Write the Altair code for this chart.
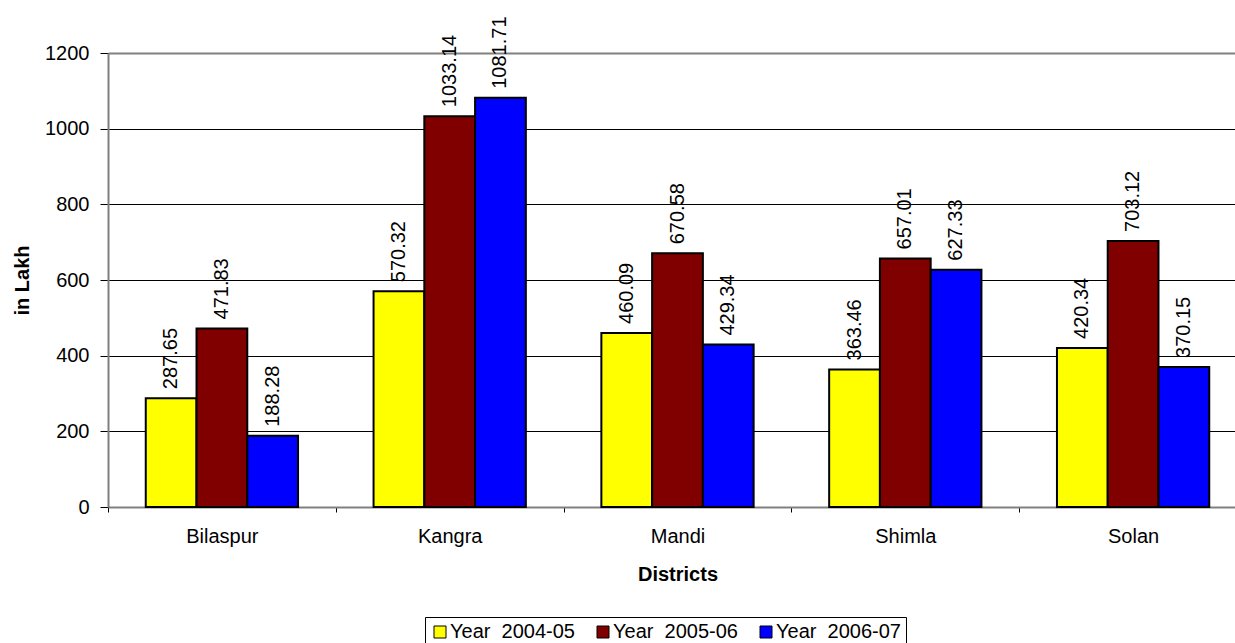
import altair as alt
import pandas as pd

# Grouped bar chart: district-wise amounts (in Lakh) for three years
districts = ["Bilaspur", "Kangra", "Mandi", "Shimla", "Solan"]
years = ["Year\u00a0 2004-05", "Year\u00a0 2005-06", "Year\u00a0 2006-07"]
y2004_05 = [287.65, 570.32, 460.09, 363.46, 420.34]
y2005_06 = [471.83, 1033.14, 670.58, 657.01, 703.12]
y2006_07 = [188.28, 1081.71, 429.34, 627.33, 370.15]
colors = ["#FFFF00", "#800000", "#0000FF"]
y_ticks = [0, 200, 400, 600, 800, 1000, 1200]

rows = []
for i, d in enumerate(districts):
    for yr, series in zip(years, [y2004_05, y2005_06, y2006_07]):
        rows.append({"District": d, "Year": yr, "Value": series[i]})
df = pd.DataFrame(rows)

FONT = "Liberation Sans"
FS = 20

x_enc = alt.X(
    "District:N",
    sort=districts,
    scale=alt.Scale(range=[0, 1139], paddingInner=0, paddingOuter=0),
    axis=alt.Axis(
        title="Districts",
        labelAngle=0,
        tickBand="extent",
        tickSize=5,
        tickColor="black",
        domainColor="#808080",
        domainWidth=2,
        labelPadding=14,
        labelFontSize=FS,
        labelFont=FONT,
        labelColor="black",
        titleFont=FONT,
        titleFontSize=FS,
        titleFontWeight="bold",
        titleColor="black",
        titleY=67,
        titleBaseline="middle",
        grid=False,
    ),
)

y_enc = alt.Y(
    "Value:Q",
    scale=alt.Scale(domain=[0, 1200], nice=False),
    axis=alt.Axis(
        title="in Lakh",
        values=y_ticks,
        format="d",
        tickSize=8,
        tickColor="black",
        domainColor="#808080",
        domainWidth=2,
        labelPadding=11,
        labelFontSize=FS,
        labelFont=FONT,
        labelColor="black",
        grid=True,
        gridColor=alt.condition("datum.value == 1200", alt.value("#808080"), alt.value("black")),
        gridWidth=alt.condition("datum.value == 1200", alt.value(2), alt.value(1)),
        gridOpacity=1,
        titleFont=FONT,
        titleFontSize=FS,
        titleFontWeight="bold",
        titleColor="black",
        titleAngle=270,
        titleX=-86,
        titleY=227,
        titleAlign="center",
        titleBaseline="middle",
    ),
)

offset = alt.XOffset(
    "Year:N",
    sort=years,
    scale=alt.Scale(paddingInner=0, paddingOuter=0.744),
)

color = alt.Color(
    "Year:N",
    sort=years,
    scale=alt.Scale(domain=years, range=colors),
    legend=alt.Legend(
        title=None,
        orient="none",
        legendX=317,
        legendY=564,
        direction="horizontal",
        symbolType="square",
        symbolSize=144,
        symbolStrokeColor="black",
        symbolStrokeWidth=1,
        symbolOpacity=1,
        labelFont=FONT,
        labelFontSize=FS,
        labelColor="black",
        labelOffset=0,
        columnPadding=18,
        padding=5,
        strokeColor="black",
        fillColor="white",
    ),
)

bars = alt.Chart(df).mark_bar(stroke="black", strokeWidth=2).encode(
    x=x_enc, y=y_enc, xOffset=offset, color=color
)

labels = alt.Chart(df).mark_text(
    angle=270, align="left", baseline="middle", dx=9,
    font=FONT, fontSize=FS, color="black",
).encode(
    x=x_enc, y=y_enc, xOffset=offset,
    text=alt.Text("Value:Q", format=".2f"),
)

chart = (
    alt.layer(bars, labels)
    .properties(
        width=1127,
        height=454,
        autosize=alt.AutoSizeParams(type="none"),
        padding={"left": 108, "top": 53, "right": 0, "bottom": 136},
        background="white",
    )
    .configure_view(stroke=None)
)

chart.save("out.html", embed_options={"renderer": "svg", "actions": False})
